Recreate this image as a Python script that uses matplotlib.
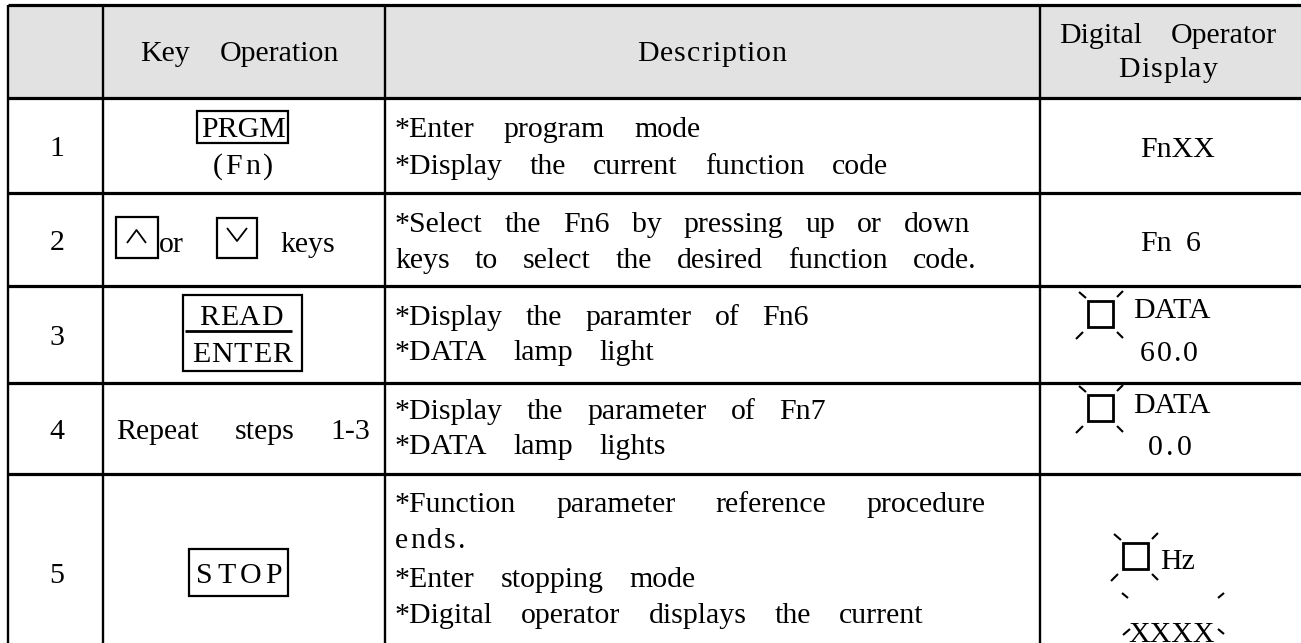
import matplotlib
matplotlib.use('Agg')
import matplotlib.pyplot as plt
from matplotlib.font_manager import FontProperties
from matplotlib.patches import Rectangle

# datos de la tabla
pasos = ['1', '2', '3', '4', '5']
encabezado = ['Key Operation', 'Description', 'Digital Operator', 'Display']
teclas = ['PRGM', '(Fn)', 'or', 'keys', 'READ', 'ENTER', 'Repeat steps 1-3', 'STOP']
descripcion = [
    ['*Enter program mode', '*Display the current function code'],
    ['*Select the Fn6 by pressing up or down', 'keys to select the desired function code.'],
    ['*Display the paramter of Fn6', '*DATA lamp light'],
    ['*Display the parameter of Fn7', '*DATA lamp lights'],
    ['*Function parameter reference procedure', 'ends.', '*Enter stopping mode',
     '*Digital operator displays the current'],
]
pantalla = ['FnXX', 'Fn 6', 'DATA', '60.0', 'DATA', '0.0', 'Hz', 'XXXX']

FUENTE = 'Liberation Serif'
TAM = 21.5

# geometria (pixeles)
colX = [8, 103, 385, 1040, 1301]
filY = [5, 98, 193, 286, 383, 474, 643]
bases = [[137, 174], [232, 268], [325, 360], [419, 454], [512, 548, 587, 623]]
huecos = [[29, 27], [22, 25], [23, 26], [24, 26], [40, 0, 26, 28]]

fig = plt.figure(figsize=(13.01, 6.43), dpi=100)
ax = fig.add_axes([0, 0, 1, 1])
ax.set_xlim(0, 1301)
ax.set_ylim(643, 0)
ax.axis('off')
rend = fig.canvas.get_renderer()

_cache = {}
def ancho(s, size):
    key = (s, size)
    if key not in _cache:
        fp = FontProperties(family=FUENTE, size=size)
        w1 = rend.get_text_width_height_descent('|' + s + '|', fp, ismath=False)[0]
        w0 = rend.get_text_width_height_descent('||', fp, ismath=False)[0]
        _cache[key] = w1 - w0
    return _cache[key]

def poner(x, y, s, size=TAM, ha='left', track=0.0, gap=None):
    palabras = s.split(' ')
    if track == 0:
        anchos = [ancho(p, size) for p in palabras]
    else:
        anchos = [sum(ancho(c, size) for c in p) + track * (len(p) - 1) for p in palabras]
    esp = gap if gap is not None else ancho(' ', size)
    total = sum(anchos) + esp * (len(palabras) - 1)
    if ha == 'center':
        x0 = x - total / 2
    elif ha == 'right':
        x0 = x - total
    else:
        x0 = x
    for p, w in zip(palabras, anchos):
        if track == 0:
            ax.text(x0, y, p, fontsize=size, family=FUENTE, ha='left', va='baseline')
        else:
            cx = x0
            for c in p:
                ax.text(cx, y, c, fontsize=size, family=FUENTE, ha='left', va='baseline')
                cx += ancho(c, size) + track
        x0 += w + esp

def caja(x0, y0, x1, y1, lw=1.6):
    ax.add_patch(Rectangle((x0, y0), x1 - x0, y1 - y0, fill=False, ec='black', lw=lw))

def linea(xs, ys, lw=1.5):
    ax.plot(xs, ys, color='black', lw=lw, solid_capstyle='butt')

def lampara(x0, y0, lado=25):
    x1, y1 = x0 + lado, y0 + lado + 1
    caja(x0, y0, x1, y1, lw=2.0)
    linea([x0 - 9, x0 - 2], [y0 - 9, y0 - 3])
    linea([x1 + 4, x1 + 10], [y0 - 4, y0 - 10])
    linea([x0 - 12, x0 - 5], [y1 + 12, y1 + 5])
    linea([x1 + 4, x1 + 10], [y1 + 5, y1 + 11])

# fondo del encabezado
ax.add_patch(Rectangle((colX[0], filY[0]), colX[-1] - colX[0], filY[1] - filY[0],
                       color='#e2e2e2', lw=0, zorder=0))

# lineas de la tabla
for y in filY[:-1]:
    linea([colX[0], colX[-1]], [y, y], lw=2.3)
for x in colX[:-1]:
    linea([x, x], [filY[0], filY[-1]], lw=1.7)

# encabezado
poner(240, 61, encabezado[0], ha='center', gap=30)
poner(712, 61, encabezado[1], ha='center', track=1)
poner(1168, 43, encabezado[2], ha='center', gap=29)
poner(1168, 77, encabezado[3], ha='center', track=1)

# numeros de paso
for n, yb in zip(pasos, [156, 250, 345, 439, 583]):
    poner(57, yb, n, ha='center')

# columna de teclas
caja(197, 111, 288, 143)
poner(243, 137, teclas[0], ha='center')
poner(243, 174, teclas[1], ha='center', track=3)

caja(116, 217, 158, 258)
linea([127, 136.5, 146], [243, 230, 243], lw=1.3)
poner(159, 252, teclas[2])
caja(217, 218, 257, 258)
linea([227, 237, 247], [228, 241, 228], lw=1.3)
poner(280, 252, teclas[3])

caja(183, 295, 302, 371)
linea([185, 292], [331, 331], lw=2.0)
poner(241, 325, teclas[4], ha='center', track=1)
poner(242, 362, teclas[5], ha='center', track=1)

poner(243, 439, teclas[6], ha='center', gap=36)

caja(189, 549, 288, 596)
poner(239, 583, teclas[7], ha='center', track=4)

# descripciones
for lineas, ys, gs in zip(descripcion, bases, huecos):
    for txt, yb, g in zip(lineas, ys, gs):
        if txt == 'ends.':
            poner(395, yb, txt, track=2)
        else:
            poner(395, yb, txt, gap=g)

# columna de pantalla
poner(1178, 157, pantalla[0], ha='center')
poner(1170, 251, pantalla[1], ha='center', gap=14)

lampara(1088, 301)
poner(1133, 318, pantalla[2])
poner(1140, 361, pantalla[3], track=2)

lampara(1088, 395)
poner(1133, 413, pantalla[4])
poner(1148, 455, pantalla[5], track=3)

lampara(1123, 543)
poner(1160, 569, pantalla[6])
linea([1122, 1128], [593, 598])
linea([1218, 1224], [598, 593])
linea([1123, 1130], [635, 629])
linea([1218, 1224], [629, 634])
ax.text(1172, 642, pantalla[7], fontsize=TAM, family=FUENTE, ha='center', va='baseline')

plt.savefig('out.png', dpi=100)
